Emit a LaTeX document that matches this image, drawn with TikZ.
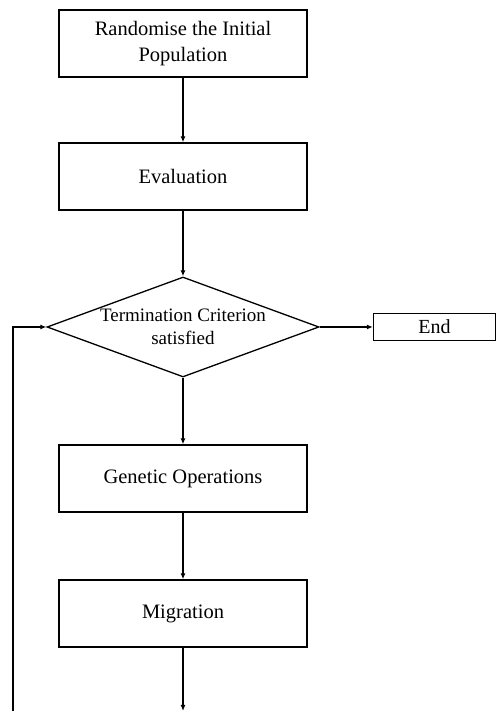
\documentclass[tikz,border=0pt]{standalone}
\usepackage{fontspec}
\setmainfont{Liberation Serif}
\usetikzlibrary{shapes.geometric,arrows.meta}

\begin{document}
\begin{tikzpicture}[x=1pt,y=1pt,
    stepbox/.style={draw,line width=1.3pt,minimum width=248pt,minimum height=67pt,
        inner sep=0pt,align=center,font=\fontsize{20.5}{26}\selectfont},
    flow/.style={line width=1.2pt,-{Latex[length=6pt,width=5pt]}}]
    \useasboundingbox (0,0) rectangle (496,711);
    \coordinate (Ic) at (183,667.5);
    \coordinate (Ec) at (183,534.5);
    \coordinate (Tc) at (183,384);
    \coordinate (Gc) at (183,232.5);
    \coordinate (Mc) at (183,97.5);
    \coordinate (Out) at (183,0);
    \coordinate (Back) at (13,0);
    \node (Init) at (Ic) [stepbox] {Randomise the Initial\\Population};
    \node (Eval) at (Ec) [stepbox] {Evaluation};
    \node (Term) at (Tc) [diamond,draw,line width=1.3pt,inner sep=0pt,
        minimum width=272pt,minimum height=100pt,
        label={[align=center,font=\fontsize{19}{23}\selectfont]center:Termination Criterion\\satisfied}] {};
    \node (Gen) at (Gc) [stepbox] {Genetic Operations};
    \node (Mig) at (Mc) [stepbox] {Migration};
    \node (End) at (434.5,384) [draw,line width=1.3pt,minimum width=122pt,minimum height=27pt,
        inner sep=0pt,font=\fontsize{20}{24}\selectfont] {End};
    \draw[flow] (Init) -- (Eval);
    \draw[flow] (Eval) -- (Term);
    \draw[flow] (Term) -- (Gen);
    \draw[flow] (Gen) -- (Mig);
    \draw[flow] (Mig) -- (Out);
    \draw[flow] (Term) -- (End);
    % loop back from below
    \draw[flow] (Back) |- (Term.west);
\end{tikzpicture}
\end{document}
